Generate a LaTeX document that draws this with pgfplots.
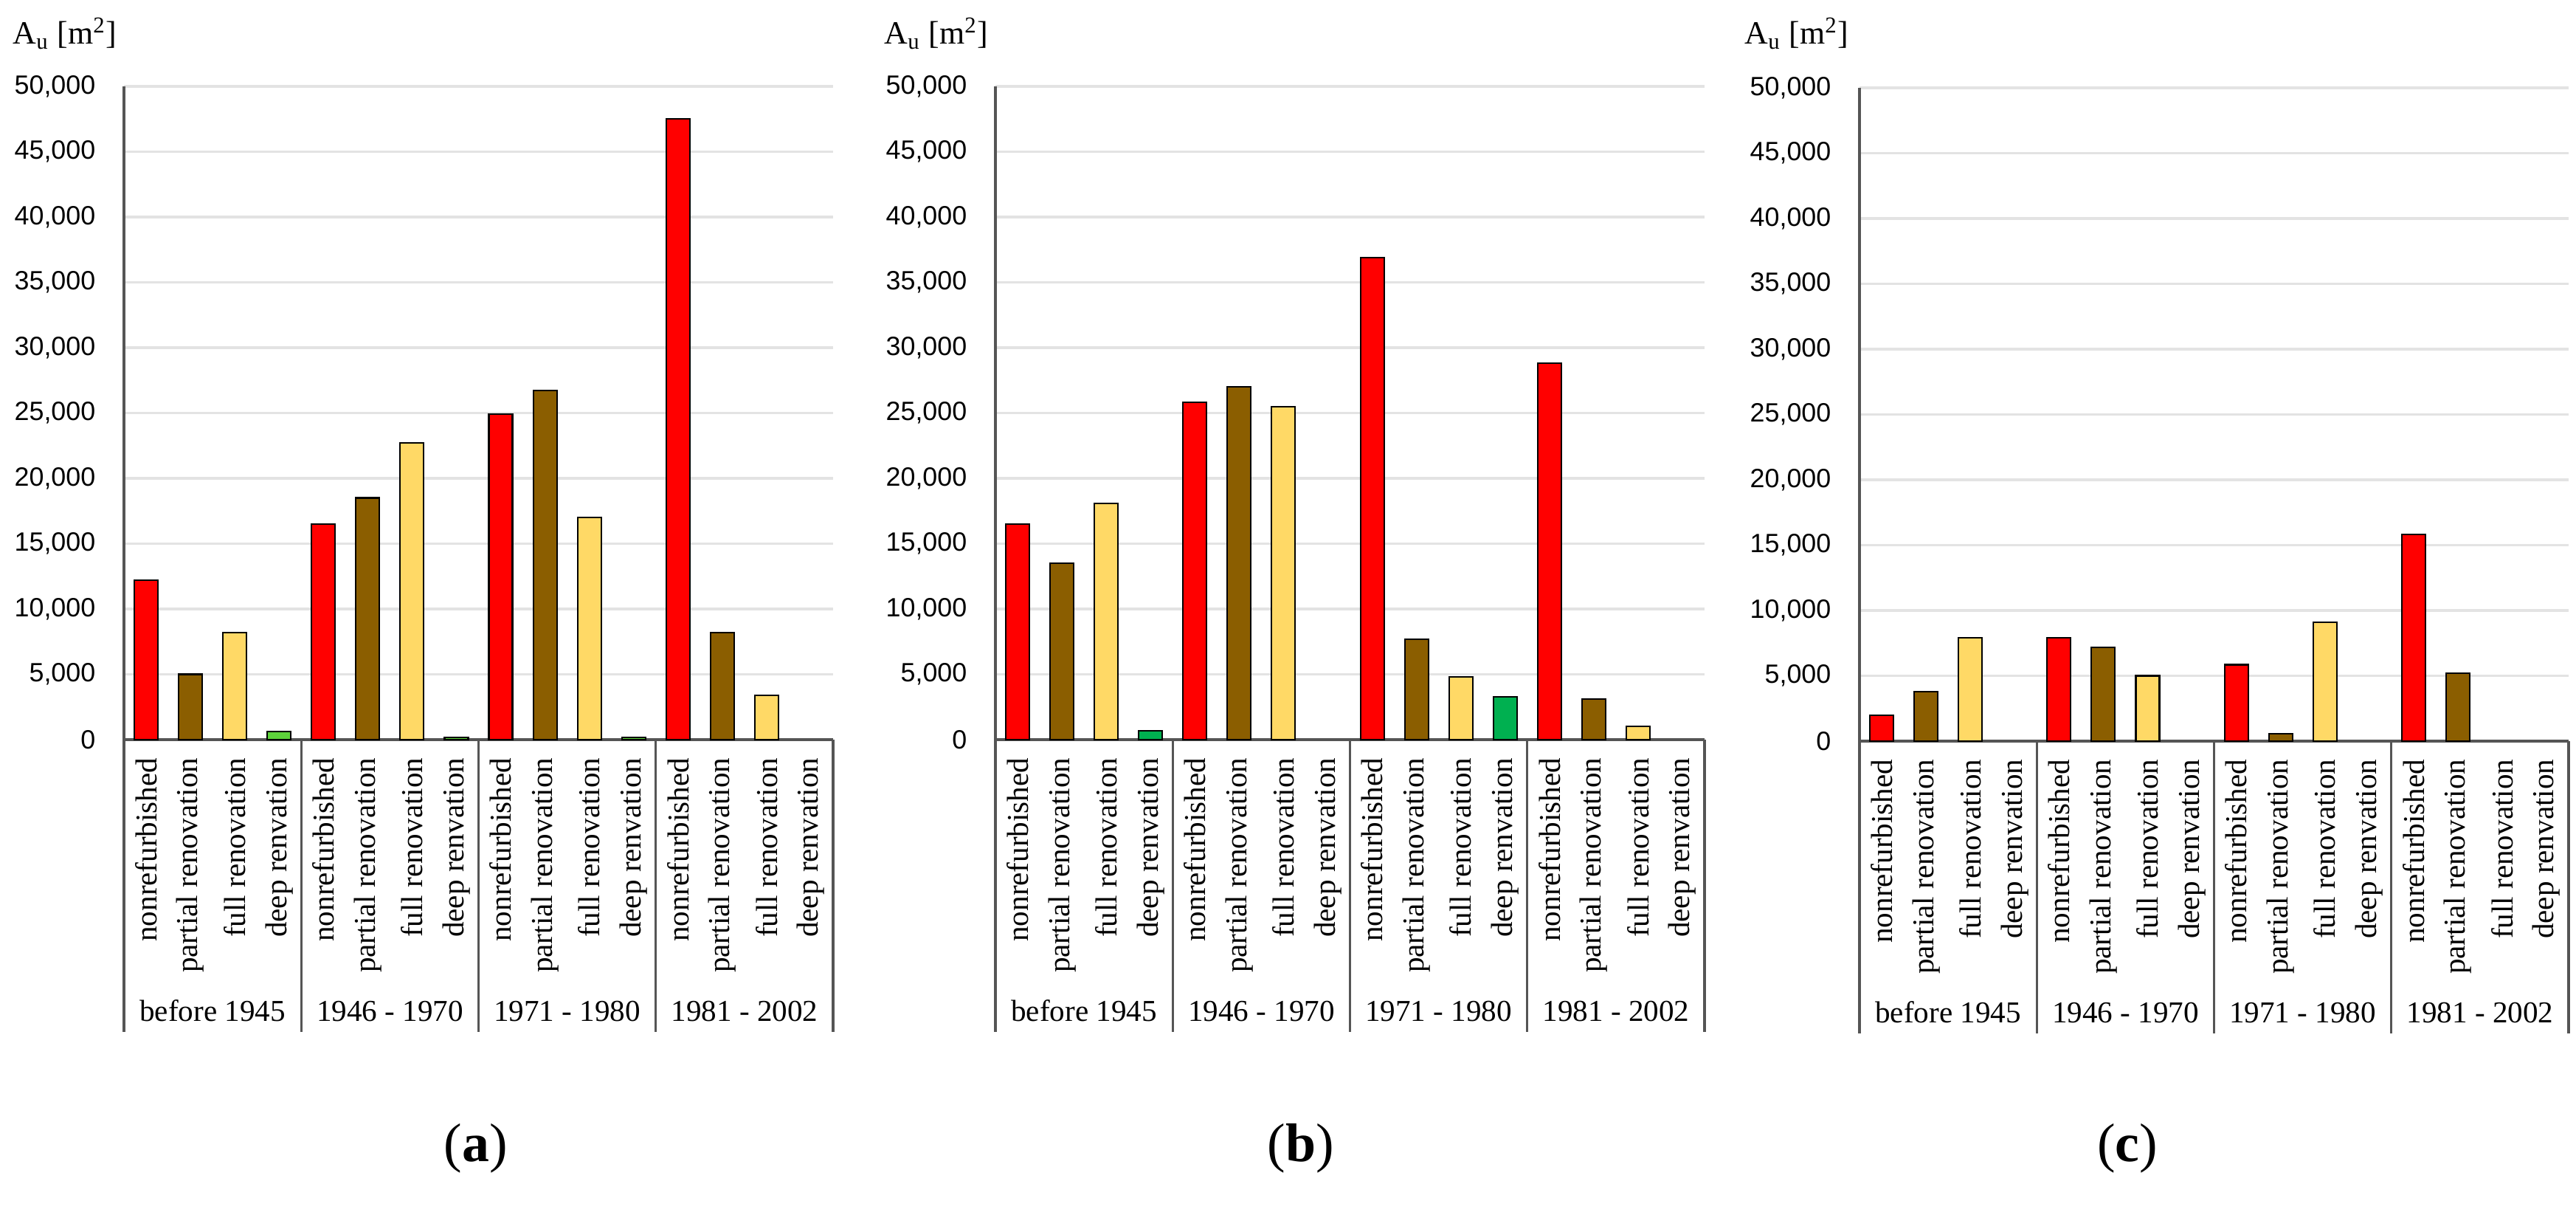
\documentclass[border=0pt]{standalone}
\usepackage{pgfplots}
\pgfplotsset{compat=1.18}
\usepackage{fontspec}
\setmainfont{Liberation Serif}
\newfontfamily\tickfont{Liberation Sans}
\definecolor{cred}{HTML}{FF0000}
\definecolor{cbrown}{HTML}{8B5E00}
\definecolor{cyellow}{HTML}{FFD966}
\definecolor{cgreenA}{HTML}{5DD23A}
\definecolor{cgreenB}{HTML}{00B050}
\definecolor{cgrid}{HTML}{E3E3E3}
\definecolor{caxis}{HTML}{555555}

\tikzset{grp/.style={font=\fontsize{11.7}{14}\selectfont, anchor=base, inner sep=0pt, yshift=-3.81cm}}
\pgfplotsset{
  panel/.style={
    scale only axis, width=9.61cm, height=8.85cm,
    anchor=south west, clip=false,
    xmin=0, xmax=16, ymin=0, ymax=50000,
    axis x line*=bottom, axis y line*=left,
    axis line style={caxis, line width=1pt, -},
    ymajorgrids, grid style={cgrid, line width=0.9pt},
    ytick={0,5000,...,50000},
    major tick length=0pt,
    scaled y ticks=false,
    /pgf/number format/1000 sep={,},
    /pgf/number format/assume math mode=true,
    yticklabel style={font=\tickfont\fontsize{10.2}{12}\selectfont, anchor=east, inner sep=0pt, xshift=-0.38cm},
    xtick={0.5,1.5,...,15.5},
    xticklabels={nonrefurbished,partial renovation,full renovation,deep renvation,
                 nonrefurbished,partial renovation,full renovation,deep renvation,
                 nonrefurbished,partial renovation,full renovation,deep renvation,
                 nonrefurbished,partial renovation,full renovation,deep renvation},
    xticklabel style={font=\fontsize{11.7}{14}\selectfont, rotate=90, anchor=east, inner xsep=0.24cm, inner ysep=0pt},
    ybar, bar width=0.32cm, bar shift=0pt,
    every axis plot/.append style={draw=black, line width=0.6pt},
  },
}
\newcommand{\framelines}{%
  \pgfplotsinvokeforeach{0,4,8,12,16}{\draw[caxis, line width=0.9pt] (axis cs:##1,0) -- ++(0,-3.96cm);}%
  \node[grp] at (axis cs:2,0) {before 1945};
  \node[grp] at (axis cs:6,0) {1946 - 1970};
  \node[grp] at (axis cs:10,0) {1971 - 1980};
  \node[grp] at (axis cs:14,0) {1981 - 2002};
}

\begin{document}
\begin{tikzpicture}
\path[use as bounding box] (0,0) rectangle (34.91,16.69);

% ---------------- (a)
\begin{axis}[panel, at={(1.68cm,6.67cm)}]
\addplot[fill=cred] coordinates {(0.5,12200) (4.5,16500) (8.5,24900) (12.5,47500)};
\addplot[fill=cbrown] coordinates {(1.5,5000) (5.5,18500) (9.5,26700) (13.5,8200)};
\addplot[fill=cyellow] coordinates {(2.5,8200) (6.5,22700) (10.5,17000) (14.5,3400)};
\addplot[fill=cgreenA] coordinates {(3.5,600) (7.5,150) (11.5,150)};
\framelines
\end{axis}

% ---------------- (b)
\begin{axis}[panel, at={(13.49cm,6.67cm)}]
\addplot[fill=cred] coordinates {(0.5,16500) (4.5,25800) (8.5,36900) (12.5,28800)};
\addplot[fill=cbrown] coordinates {(1.5,13500) (5.5,27000) (9.5,7700) (13.5,3100)};
\addplot[fill=cyellow] coordinates {(2.5,18100) (6.5,25500) (10.5,4800) (14.5,1000)};
\addplot[fill=cgreenB] coordinates {(3.5,700) (11.5,3300)};
\framelines
\end{axis}

% ---------------- (c)
\begin{axis}[panel, at={(25.20cm,6.65cm)}]
\addplot[fill=cred] coordinates {(0.5,2000) (4.5,7900) (8.5,5850) (12.5,15800)};
\addplot[fill=cbrown] coordinates {(1.5,3800) (5.5,7200) (9.5,550) (13.5,5200)};
\addplot[fill=cyellow] coordinates {(2.5,7900) (6.5,5000) (10.5,9100)};
\framelines
\end{axis}

\foreach \x in {0.17,11.98,23.64}{
  \node[anchor=base west, inner sep=0pt, font=\fontsize{12.5}{15}\selectfont] at (\x,16.09) {A\textsubscript{u} [m\textsuperscript{2}]};
}
\node[anchor=base, inner sep=0pt, font=\fontsize{21}{25}\selectfont] at (6.45,0.95) {(\textbf{a})};
\node[anchor=base, inner sep=0pt, font=\fontsize{21}{25}\selectfont] at (17.63,0.95) {(\textbf{b})};
\node[anchor=base, inner sep=0pt, font=\fontsize{21}{25}\selectfont] at (28.83,0.95) {(\textbf{c})};
\end{tikzpicture}
\end{document}
